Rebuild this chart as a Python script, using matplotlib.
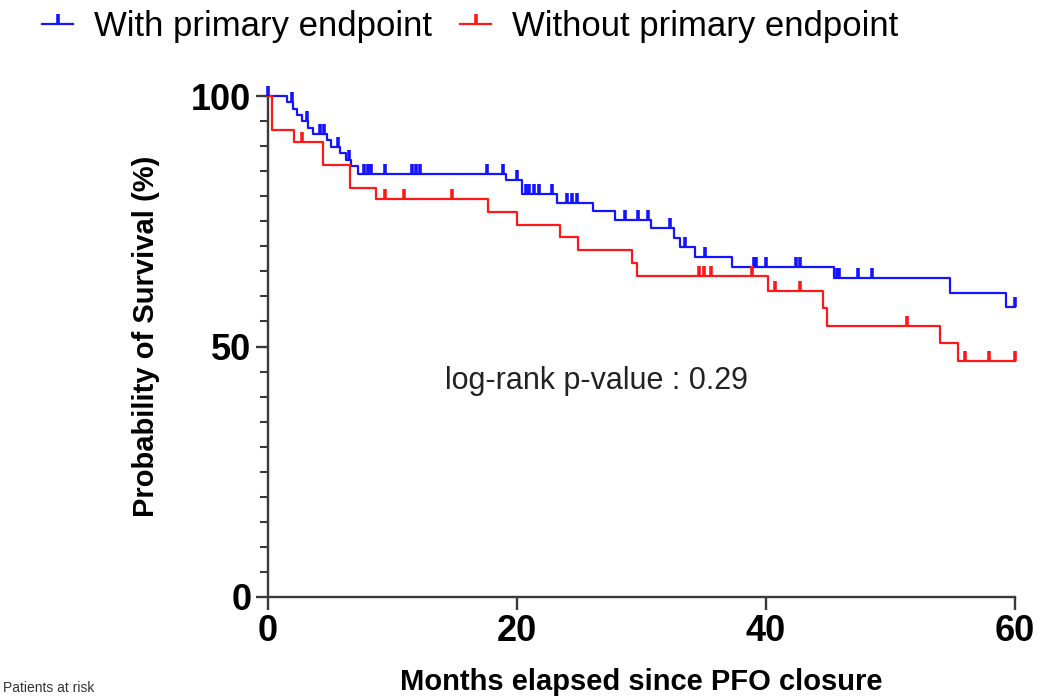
import numpy as np
import matplotlib
matplotlib.use('Agg')
import matplotlib.pyplot as plt
from matplotlib.lines import Line2D
from matplotlib.ticker import MultipleLocator

plt.rcParams['font.family'] = ['Liberation Sans', 'DejaVu Sans']

# ---- Data ----
series_labels = ["With primary endpoint", "Without primary endpoint"]

# Kaplan-Meier steps: event times (months) and survival (%) after each event
with_times = [0, 1.5, 2.0, 2.3, 2.7, 3.2, 3.6, 4.7, 5.1, 5.8, 6.3, 6.7, 7.2,
              19.1, 20.4, 23.2, 26.1, 27.9, 30.8, 32.65, 33.1, 34.3, 37.25,
              45.5, 54.8, 59.3]
with_surv = [100, 98.8, 97.5, 96.3, 95.0, 93.7, 92.5, 91.2, 89.9, 88.6, 87.3,
             86.0, 84.5, 83.2, 80.5, 78.7, 77.0, 75.2, 73.6, 71.7, 69.9, 67.9,
             65.9, 63.7, 60.7, 57.9]
with_censor = [0, 1.9, 3.1, 4.2, 4.5, 5.6, 6.5, 7.7, 8.0, 8.3, 9.4, 11.6, 11.9,
               12.2, 17.6, 18.9, 20.0, 20.7, 21.0, 21.4, 21.8, 22.8, 24.0, 24.4,
               24.8, 28.7, 29.7, 30.5, 32.3, 33.5, 35.1, 39.0, 39.2, 40.0, 42.4,
               42.7, 45.7, 45.9, 47.4, 48.5, 60.0]

without_times = [0, 0.3, 2.1, 4.4, 6.6, 8.7, 17.7, 20.0, 23.45, 24.9, 29.2,
                 29.6, 40.2, 44.6, 44.9, 54.0, 55.45]
without_surv = [100, 93.2, 90.9, 86.3, 81.6, 79.4, 76.8, 74.3, 71.8, 69.3,
                66.6, 64.0, 61.1, 57.6, 54.1, 50.6, 47.2]
without_censor = [2.7, 9.4, 10.9, 14.8, 34.6, 35.0, 35.6, 38.85, 40.7, 42.7,
                  51.3, 56.0, 57.9, 60.0]

x_ticks = [0, 20, 40, 60]
y_ticks = [0, 50, 100]
follow_up_end = 60

annotation = "log-rank p-value : 0.29"
x_label = "Months elapsed since PFO closure"
y_label = "Probability of Survival (%)"
footer = "Patients at risk"

BLUE = '#1414ff'
RED = '#ff1818'
LW = 1.6
MS = 7.0
MEW = 2.6

fig = plt.figure(figsize=(10.61, 6.97), dpi=100)
ax = fig.add_axes([268/1061, 100/697, (1015-268)/1061, (597-96)/697])


def draw_km(times, surv, censor, color):
    t = list(times) + [follow_up_end]
    s = list(surv) + [surv[-1]]
    ax.step(t, s, where='post', color=color, lw=LW, clip_on=False, zorder=3)
    idx = np.searchsorted(np.array(times), np.array(censor), side='right') - 1
    cy = np.array(surv)[idx]
    ax.plot(censor, cy, linestyle='none', marker=2, markersize=MS,
            markeredgewidth=MEW, color=color, clip_on=False, zorder=4)


draw_km(with_times, with_surv, with_censor, BLUE)
draw_km(without_times, without_surv, without_censor, RED)

ax.set_xlim(0, 60)
ax.set_ylim(0, 100)
ax.set_xticks(x_ticks)
ax.set_yticks(y_ticks)
ax.yaxis.set_minor_locator(MultipleLocator(5))
for sp in ['top', 'right']:
    ax.spines[sp].set_visible(False)
for sp in ['left', 'bottom']:
    ax.spines[sp].set_linewidth(1.7)
    ax.spines[sp].set_color('#3a3a3a')
ax.tick_params(which='major', length=9, width=1.7, color='#3a3a3a',
               labelsize=26, pad=3)
ax.tick_params(which='minor', length=6, width=1.5, color='#3a3a3a')
for lbl in ax.get_xticklabels() + ax.get_yticklabels():
    lbl.set_fontweight('bold')

ax.set_xlabel(x_label, fontsize=21, fontweight='bold', labelpad=14)
ax.set_ylabel(y_label, fontsize=21, fontweight='bold', labelpad=10)
ax.yaxis.set_label_coords(-0.145, 0.52)

ax.text(0.237, 0.431, annotation, transform=ax.transAxes, fontsize=22,
        ha='left', va='center', color='#222222')

handles = [Line2D([0], [0], color=BLUE, lw=LW, marker=2, markersize=MS,
                  markeredgewidth=MEW),
           Line2D([0], [0], color=RED, lw=LW, marker=2, markersize=MS,
                  markeredgewidth=MEW)]
fig.legend(handles, series_labels, loc='upper left',
           bbox_to_anchor=(0.02, 1.015), ncol=2, frameon=False, fontsize=25,
           handlelength=0.9, handletextpad=0.6, columnspacing=0.8,
           borderaxespad=0.2)

fig.text(0.003, 0.003, footer, fontsize=10, va='bottom', color='#333333')

fig.savefig('out.png', dpi=100)
